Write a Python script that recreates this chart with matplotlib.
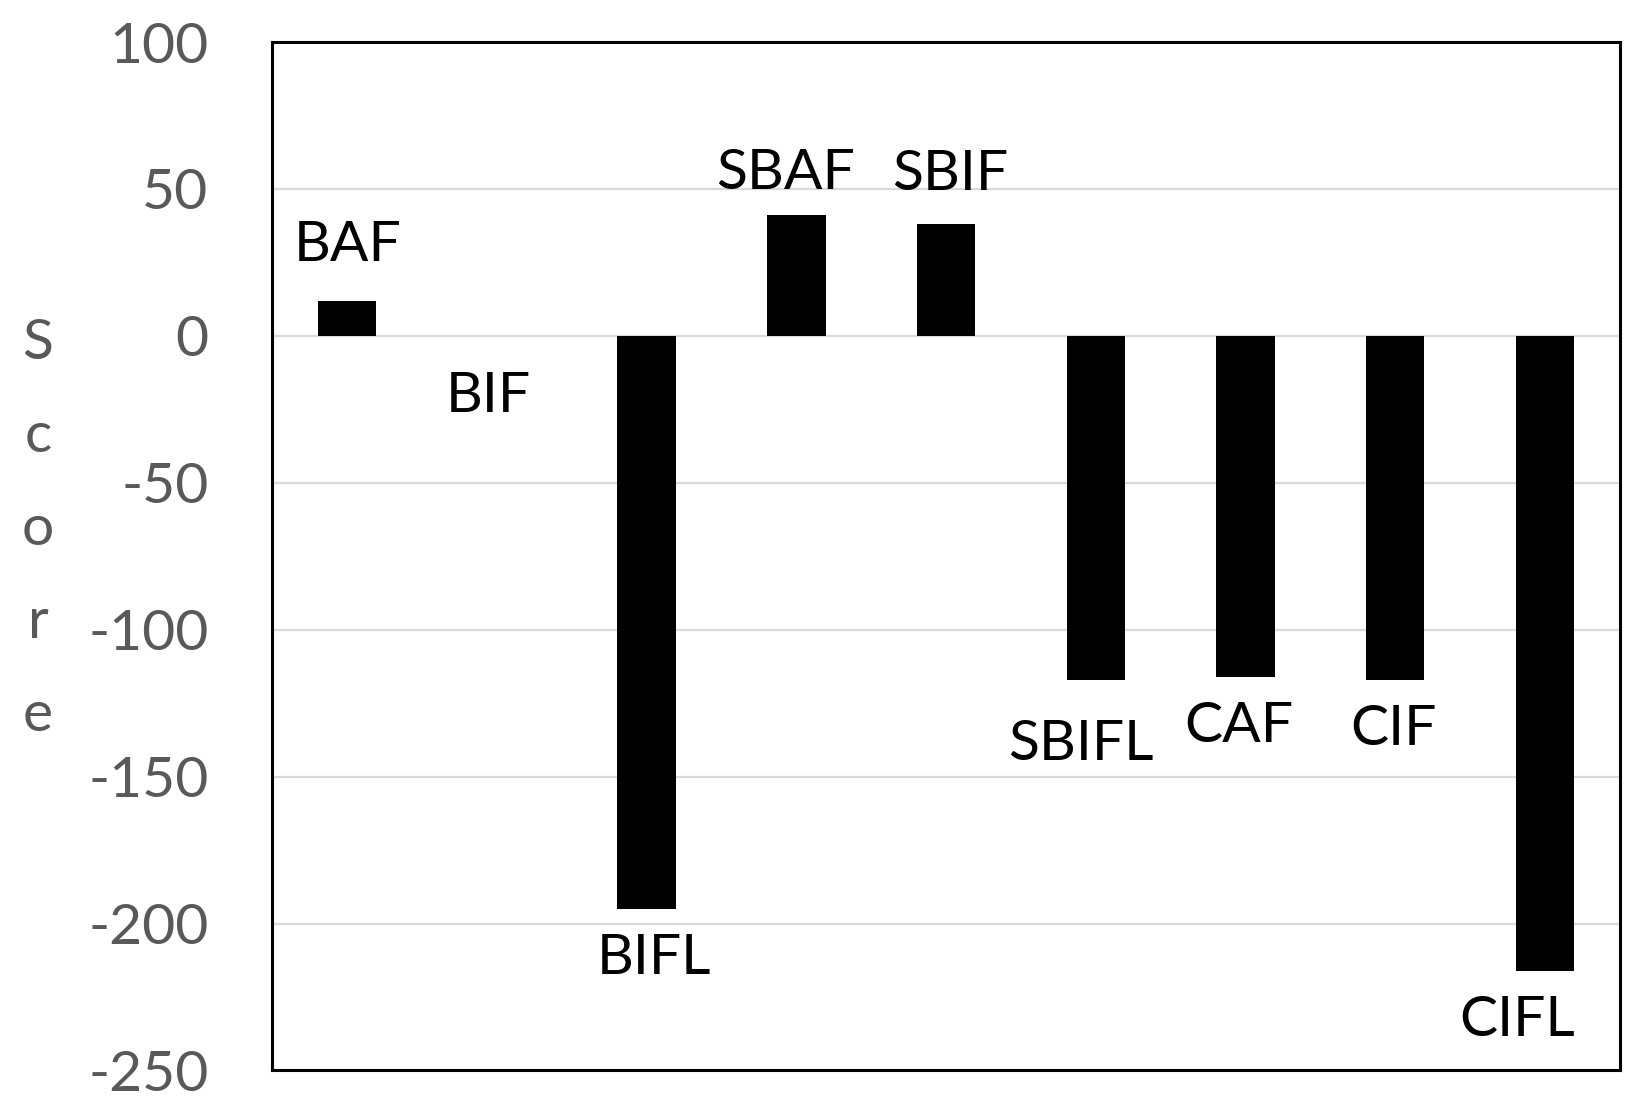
#!/usr/bin/env python3
"""Bar chart of scores per fusion method, with category names as data labels."""

import matplotlib

matplotlib.use("Agg")
import matplotlib.pyplot as plt  # noqa: E402


METHODS = ["BAF", "BIF", "BIFL", "SBAF", "SBIF", "SBIFL", "CAF", "CIF", "CIFL"]
SCORES = [12, 0, -195, 41, 38, -117, -116, -117, -216]
Y_TICKS = [100, 50, 0, -50, -100, -150, -200, -250]

# small hand nudges of the data labels (points), as placed in the original
LABEL_DX = [0, -6, 5, -7.5, 3, -10.5, -4.5, -1, -20]
LABEL_DY = [4, -7.5, 0, -6, 0, -11, 0, 0, 0]

GRAY = "#595959"
GRID = "#d9d9d9"


def main() -> int:
    plt.rcParams.update(
        {
            "font.family": ["Liberation Sans Narrow", "Lato", "DejaVu Sans"],
            "font.size": 41,
        }
    )

    fig = plt.figure(figsize=(16.41, 11.07), dpi=100)
    ax = fig.add_axes([0.166, 0.033, 0.821, 0.929])

    x = list(range(len(METHODS)))
    ax.bar(x, SCORES, width=0.39, color="black", zorder=3)

    for xi, name, val, dx, dy in zip(x, METHODS, SCORES, LABEL_DX, LABEL_DY):
        off = 36 if val > 0 else -36
        ax.annotate(
            name,
            (xi, val),
            xytext=(dx, off + dy),
            textcoords="offset points",
            ha="center",
            va="center",
            color="black",
            fontsize=41,
        )

    ax.set_xlim(-0.5, len(METHODS) - 0.5)
    ax.set_ylim(min(Y_TICKS), max(Y_TICKS))
    ax.set_yticks(Y_TICKS)
    ax.set_yticklabels([str(t) for t in Y_TICKS])
    ax.set_xticks([])
    ax.tick_params(axis="y", length=0, pad=46, colors=GRAY, labelsize=41)
    for spine in ax.spines.values():
        spine.set_color("black")
        spine.set_linewidth(2.2)
        spine.set_zorder(4)

    for t in Y_TICKS[1:-1]:
        ax.axhline(t, color=GRID, linewidth=1.6, zorder=1)

    ax.set_ylabel("\n".join("Score"), rotation=0, color=GRAY, fontsize=41,
                  linespacing=2.02, va="center", ha="center")
    ax.yaxis.set_label_coords(-0.174, 0.526)

    fig.savefig("out.png", dpi=100)
    plt.close(fig)
    return 0


if __name__ == "__main__":
    raise SystemExit(main())
